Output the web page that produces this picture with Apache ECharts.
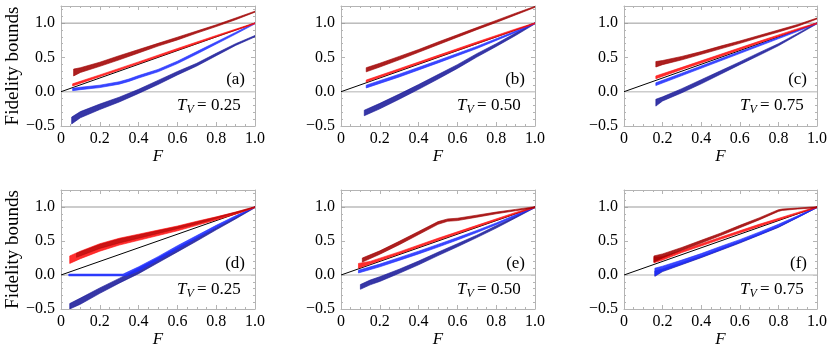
<!DOCTYPE html>
<html>
<head>
<meta charset="utf-8">
<script src="https://cdn.jsdelivr.net/npm/echarts@6/dist/echarts.min.js"></script>
<style>
  html, body { margin: 0; padding: 0; background: #fff; }
  #chart { width: 831px; height: 357px; }
</style>
</head>
<body>
<div id="chart"></div>
<script>
// each band sample: [F, lower edge, upper edge]
const aDarkRed = [[0.065,0.23,0.33],[0.1,0.28,0.35],[0.2,0.37,0.43],[0.3,0.465,0.525],[0.4,0.565,0.615],[0.5,0.665,0.705],[0.6,0.755,0.795],[0.7,0.855,0.885],[0.8,0.95,0.975],[0.9,1.05,1.075],[1.0,1.16,1.175]]
const aRed = [[0.06,0.085,0.115],[0.2,0.22,0.245],[0.4,0.41,0.435],[0.6,0.605,0.63],[0.8,0.80,0.82],[1.0,0.99,1.005]]
const aBlue = [[0.06,0.015,0.05],[0.1,0.03,0.065],[0.2,0.06,0.095],[0.3,0.11,0.145],[0.35,0.15,0.185],[0.4,0.20,0.235],[0.5,0.29,0.325],[0.6,0.41,0.445],[0.7,0.55,0.585],[0.8,0.695,0.725],[0.9,0.84,0.865],[1.0,0.99,1.005]]
const aDarkBlue = [[0.055,-0.47,-0.37],[0.1,-0.38,-0.29],[0.2,-0.26,-0.18],[0.3,-0.15,-0.08],[0.4,-0.025,0.035],[0.5,0.105,0.165],[0.6,0.245,0.295],[0.7,0.375,0.415],[0.8,0.525,0.56],[0.9,0.675,0.70],[1.0,0.80,0.82]]

const bDarkRed = [[0.13,0.29,0.35],[0.2,0.36,0.415],[0.3,0.465,0.515],[0.4,0.575,0.615],[0.5,0.685,0.725],[0.6,0.795,0.83],[0.7,0.905,0.935],[0.8,1.01,1.04],[0.9,1.12,1.145],[1.0,1.23,1.245]]
const bRed = [[0.13,0.14,0.17],[0.3,0.31,0.335],[0.5,0.505,0.53],[0.7,0.70,0.725],[0.9,0.895,0.915],[1.0,0.99,1.005]]
const bBlue = [[0.13,0.055,0.095],[0.3,0.215,0.255],[0.5,0.42,0.455],[0.7,0.63,0.66],[0.9,0.865,0.885],[1.0,0.99,1.005]]
const bDarkBlue = [[0.12,-0.35,-0.27],[0.2,-0.25,-0.17],[0.3,-0.11,-0.035],[0.4,0.035,0.105],[0.5,0.185,0.25],[0.6,0.34,0.395],[0.7,0.505,0.555],[0.8,0.66,0.70],[0.9,0.82,0.855],[1.0,0.99,1.005]]

const cDarkRed = [[0.165,0.36,0.44],[0.2,0.395,0.455],[0.3,0.465,0.515],[0.4,0.545,0.585],[0.5,0.625,0.665],[0.6,0.705,0.74],[0.7,0.79,0.82],[0.8,0.87,0.90],[0.9,0.955,0.98],[1.0,1.06,1.075]]
const cRed = [[0.165,0.19,0.23],[0.3,0.325,0.355],[0.5,0.515,0.545],[0.7,0.71,0.735],[0.9,0.90,0.92],[1.0,0.99,1.005]]
const cBlue = [[0.165,0.09,0.13],[0.3,0.235,0.27],[0.5,0.45,0.48],[0.7,0.665,0.69],[0.9,0.88,0.90],[1.0,0.99,1.005]]
const cDarkBlue = [[0.165,-0.21,-0.11],[0.2,-0.135,-0.075],[0.3,-0.015,0.045],[0.4,0.115,0.175],[0.5,0.255,0.305],[0.6,0.395,0.435],[0.7,0.53,0.57],[0.8,0.67,0.70],[0.9,0.83,0.85],[1.0,0.99,1.005]]

const dDarkRed = [[0.08,0.26,0.32],[0.2,0.39,0.45],[0.3,0.47,0.53],[0.4,0.54,0.59],[0.5,0.61,0.65],[0.6,0.68,0.71],[0.7,0.75,0.78],[0.8,0.83,0.85],[0.9,0.91,0.925],[1.0,0.995,1.005]]
const dRed = [[0.045,0.17,0.28],[0.1,0.24,0.35],[0.2,0.35,0.46],[0.3,0.44,0.54],[0.4,0.51,0.60],[0.5,0.58,0.66],[0.6,0.65,0.72],[0.7,0.73,0.79],[0.8,0.81,0.855],[0.9,0.895,0.925],[1.0,0.99,1.005]]
const dBlue = [[0.04,-0.013,0.013],[0.32,-0.013,0.013],[0.34,-0.01,0.04],[0.4,0.06,0.12],[0.5,0.22,0.27],[0.6,0.38,0.43],[0.7,0.54,0.58],[0.8,0.70,0.73],[0.9,0.85,0.87],[1.0,0.995,1.005]]
const dDarkBlue = [[0.045,-0.5,-0.42],[0.1,-0.43,-0.34],[0.2,-0.27,-0.19],[0.3,-0.12,-0.05],[0.4,0.02,0.10],[0.5,0.18,0.25],[0.6,0.34,0.40],[0.7,0.50,0.55],[0.8,0.665,0.70],[0.9,0.825,0.85],[1.0,0.99,1.005]]

const eDarkRed = [[0.11,0.19,0.25],[0.2,0.305,0.355],[0.3,0.445,0.495],[0.4,0.595,0.64],[0.5,0.745,0.785],[0.55,0.79,0.825],[0.6,0.80,0.835],[0.7,0.85,0.88],[0.8,0.90,0.925],[0.9,0.945,0.965],[1.0,0.99,1.005]]
const eRed = [[0.09,0.10,0.17],[0.15,0.16,0.20],[0.3,0.31,0.34],[0.5,0.51,0.54],[0.7,0.705,0.73],[0.9,0.90,0.92],[1.0,0.99,1.005]]
const eBlue = [[0.09,0.03,0.07],[0.2,0.12,0.16],[0.3,0.215,0.255],[0.4,0.31,0.35],[0.5,0.41,0.45],[0.6,0.515,0.55],[0.7,0.625,0.655],[0.8,0.74,0.765],[0.9,0.865,0.885],[1.0,0.99,1.005]]
const eDarkBlue = [[0.1,-0.21,-0.14],[0.15,-0.145,-0.075],[0.2,-0.095,-0.025],[0.3,0.025,0.085],[0.4,0.15,0.205],[0.5,0.285,0.335],[0.6,0.415,0.46],[0.7,0.55,0.585],[0.8,0.69,0.725],[0.9,0.84,0.865],[1.0,0.99,1.005]]

const fDarkRed = [[0.155,0.19,0.28],[0.2,0.25,0.31],[0.3,0.365,0.405],[0.4,0.47,0.51],[0.5,0.58,0.615],[0.6,0.695,0.73],[0.7,0.81,0.84],[0.8,0.935,0.96],[0.82,0.95,0.97],[0.9,0.97,0.985],[1.0,0.99,1.005]]
const fRed = [[0.155,0.18,0.26],[0.2,0.22,0.27],[0.3,0.33,0.36],[0.5,0.525,0.555],[0.7,0.715,0.745],[0.9,0.90,0.92],[1.0,0.99,1.005]]
const fBlue = [[0.16,-0.01,0.10],[0.2,0.06,0.13],[0.3,0.16,0.22],[0.4,0.265,0.315],[0.5,0.37,0.42],[0.6,0.48,0.52],[0.7,0.59,0.63],[0.8,0.71,0.745],[0.9,0.845,0.87],[1.0,0.99,1.005]]
const fDarkBlue = [[0.16,-0.02,0.06],[0.2,0.05,0.09],[0.4,0.255,0.28],[0.6,0.47,0.49],[0.8,0.70,0.715],[1.0,0.99,1.0]]

const diagonal = [[0, 0], [1, 1]]
const refLines = [0, 1]
const panelTags = ['(a)', '(b)', '(c)', '(d)', '(e)', '(f)']
const tvValues = ['0.25', '0.50', '0.75', '0.25', '0.50', '0.75']

// draw order: dark blue, blue, red, dark red
const panelBands = [
  [aDarkBlue, aBlue, aRed, aDarkRed],
  [bDarkBlue, bBlue, bRed, bDarkRed],
  [cDarkBlue, cBlue, cRed, cDarkRed],
  [dDarkBlue, dBlue, dRed, dDarkRed],
  [eDarkBlue, eBlue, eRed, eDarkRed],
  [fDarkBlue, fBlue, fRed, fDarkRed],
]
const bandColors = ['#1a1a9a', '#1f2dff', '#ff1010', '#a00000']

const FONT = '"Liberation Serif", "Times New Roman", serif'
const FRAME = '#b4b4b4'
const colLeft = [61, 341, 624]
const colWidth = [194, 194, 193]
const rowTop = [6, 190]
const rowHeight = [120, 119]

const grids = []
const xAxes = []
const yAxes = []
const series = []
const graphics = []

function fmtY(v) {
  if (Math.abs(v * 2 - Math.round(v * 2)) > 1e-6) return ''
  return v.toFixed(1).replace('-', '\u2212')
}

function bandSeries(data, color, gi, opacity) {
  return {
    type: 'custom',
    xAxisIndex: 2 * gi,
    yAxisIndex: 2 * gi,
    data: data,
    clip: true,
    silent: true,
    z: 3,
    renderItem(params, api) {
      if (params.dataIndex !== 0) return
      const upper = data.map((d) => api.coord([d[0], d[2]]))
      const lower = data.map((d) => api.coord([d[0], d[1]])).reverse()
      return {
        type: 'polygon',
        shape: { points: upper.concat(lower) },
        style: { fill: color, stroke: color, lineWidth: 0.7, opacity: opacity },
      }
    },
  }
}

for (let i = 0; i < 6; i++) {
  const col = i % 3
  const row = Math.floor(i / 3)
  const left = colLeft[col]
  const top = rowTop[row]
  const width = colWidth[col]
  const height = rowHeight[row]
  grids.push({ left, top, width, height, containLabel: false })

  const tick = { show: true, inside: true, length: 4, lineStyle: { color: FRAME } }
  const minor = { show: true, length: 2, lineStyle: { color: FRAME } }
  const line = { show: true, onZero: false, lineStyle: { color: FRAME, width: 1 } }

  xAxes.push({
    type: 'value', gridIndex: i, min: 0, max: 1, interval: 0.2, position: 'bottom',
    axisLine: line, axisTick: tick, minorTick: Object.assign({ splitNumber: 4 }, minor),
    splitLine: { show: false },
    axisLabel: { color: '#000', fontFamily: FONT, fontSize: 16, margin: 5,
      formatter: (v) => (v === 0 ? '0' : v.toFixed(1)) },
    name: 'F', nameLocation: 'middle', nameGap: 20,
    nameTextStyle: { fontFamily: FONT, fontSize: 17, fontStyle: 'italic', color: '#000' },
  })
  xAxes.push({
    type: 'value', gridIndex: i, min: 0, max: 1, interval: 0.2, position: 'top',
    axisLine: line, axisTick: tick, minorTick: Object.assign({ splitNumber: 4 }, minor),
    splitLine: { show: false }, axisLabel: { show: false },
  })
  yAxes.push({
    type: 'value', gridIndex: i, min: -0.5, max: 1.25, interval: 0.5, position: 'left',
    axisLine: line, axisTick: tick, minorTick: Object.assign({ splitNumber: 5 }, minor),
    splitLine: { show: false },
    axisLabel: { color: '#000', fontFamily: FONT, fontSize: 16, margin: 6, formatter: fmtY },
    name: col === 0 ? 'Fidelity bounds' : '', nameLocation: 'middle', nameGap: 38,
    nameTextStyle: { fontFamily: FONT, fontSize: 19, color: '#000' },
  })
  yAxes.push({
    type: 'value', gridIndex: i, min: -0.5, max: 1.25, interval: 0.5, position: 'right',
    axisLine: line, axisTick: tick, minorTick: Object.assign({ splitNumber: 5 }, minor),
    splitLine: { show: false }, axisLabel: { show: false },
  })

  // gray reference lines at 0 and 1, under everything else
  series.push({
    type: 'line', xAxisIndex: 2 * i, yAxisIndex: 2 * i, data: [[0, refLines[0]], [1, refLines[0]]],
    symbol: 'none', silent: true, z: 0, lineStyle: { color: '#cccccc', width: 1.5 },
  })
  series.push({
    type: 'line', xAxisIndex: 2 * i, yAxisIndex: 2 * i, data: [[0, refLines[1]], [1, refLines[1]]],
    symbol: 'none', silent: true, z: 0, lineStyle: { color: '#999999', width: 1 },
  })
  series.push({
    type: 'line', xAxisIndex: 2 * i, yAxisIndex: 2 * i, data: diagonal,
    symbol: 'none', silent: true, z: 1, lineStyle: { color: '#000', width: 1 },
  })
  panelBands[i].forEach((band, k) => {
    const op = (i === 3 && k === 3) ? 0.55 : 0.88
    series.push(bandSeries(band, bandColors[k], i, op))
  })

  // panel tag and T_V annotation
  graphics.push({ type: 'text', x: left + width - 10, y: top + 74,
    style: { text: panelTags[i], font: '17px ' + FONT, fill: '#000',
      align: 'right', verticalAlign: 'middle', textAlign: 'right', textVerticalAlign: 'middle' } })
  const tx = left + 116
  const ty = top + 100
  graphics.push({ type: 'text', x: tx, y: ty,
    style: { text: 'T', font: 'italic 17px ' + FONT, fill: '#000',
      align: 'left', verticalAlign: 'middle', textAlign: 'left', textVerticalAlign: 'middle' } })
  graphics.push({ type: 'text', x: tx + 9.5, y: ty + 3.5,
    style: { text: 'V', font: 'italic 12px ' + FONT, fill: '#000',
      align: 'left', verticalAlign: 'middle', textAlign: 'left', textVerticalAlign: 'middle' } })
  graphics.push({ type: 'text', x: tx + 20, y: ty,
    style: { text: '=', font: '17px ' + FONT, fill: '#000',
      align: 'left', verticalAlign: 'middle', textAlign: 'left', textVerticalAlign: 'middle' } })
  graphics.push({ type: 'text', x: tx + 34, y: ty,
    style: { text: tvValues[i], font: '17px ' + FONT, fill: '#000',
      align: 'left', verticalAlign: 'middle', textAlign: 'left', textVerticalAlign: 'middle' } })
}

const chart = echarts.init(document.getElementById('chart'))
chart.setOption({
  animation: false,
  backgroundColor: '#fff',
  grid: grids,
  xAxis: xAxes,
  yAxis: yAxes,
  series: series,
  graphic: graphics,
})
</script>
</body>
</html>
